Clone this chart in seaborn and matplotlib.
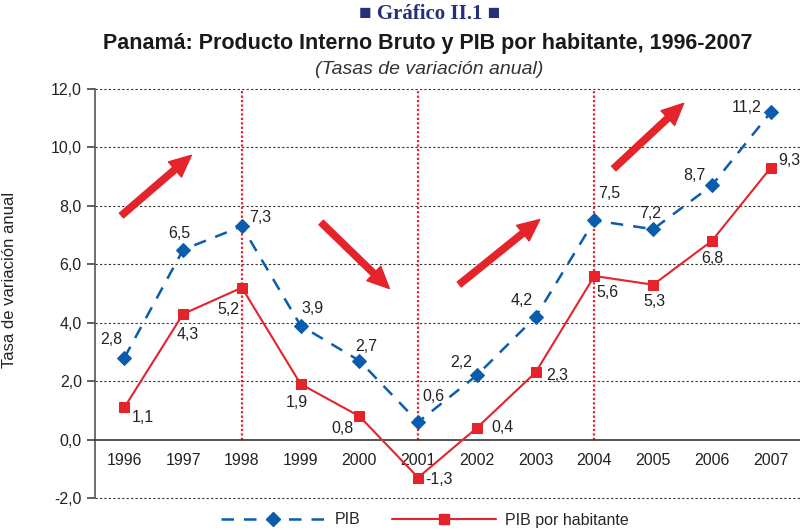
import numpy as np
import pandas as pd
import matplotlib
matplotlib.use("Agg")
import matplotlib.pyplot as plt
import seaborn as sns
from matplotlib.ticker import FuncFormatter, FixedLocator
from matplotlib.lines import Line2D

# ==========================================
#  DATA
# ==========================================
years = [1996, 1997, 1998, 1999, 2000, 2001, 2002, 2003, 2004, 2005, 2006, 2007]
pib = [2.8, 6.5, 7.3, 3.9, 2.7, 0.6, 2.2, 4.2, 7.5, 7.2, 8.7, 11.2]
pib_hab = [1.1, 4.3, 5.2, 1.9, 0.8, -1.3, 0.4, 2.3, 5.6, 5.3, 6.8, 9.3]

# label offsets (pixels) for the value annotations
pib_off = [(-13, 18), (-4, 16), (18, 9), (12, 17), (7, 14), (15, 26),
           (-16, 13), (-14, 16), (15, 27), (-3, 16), (-18, 10), (-24, 5)]
hab_off = [(18, -10), (5, -21), (-13, -22), (-4, -18), (-17, -12), (21, -2),
           (26, 0), (22, -3), (13, -17), (1, -17), (0, -18), (19, 7)]

# marked years and trend arrows (tail -> tip)
marked_years = [1998, 2001, 2004]
arrows = [((1995.95, 7.67), (1997.14, 9.73)),
          ((1999.35, 7.43), (2000.51, 5.17)),
          ((2001.70, 5.31), (2003.07, 7.53)),
          ((2004.33, 9.28), (2005.52, 11.51))]

df = pd.DataFrame({"Year": years, "PIB": pib, "PIB por habitante": pib_hab})

BLUE = "#0b5cad"
RED = "#e4232b"
NAVY = "#25307a"
TXT = "#222222"
FS = 11.5

sns.set_style("white")
plt.rcParams["font.family"] = ["Liberation Sans", "DejaVu Sans"]

fig = plt.figure(figsize=(8, 5.3), dpi=100)
ax = fig.add_axes([95 / 800, 1 - 498 / 530, 705 / 800, 409 / 530])

# grid
for g in np.arange(-2, 12.1, 2):
    if g != 0:
        ax.axhline(g, color="#333333", lw=0.8, ls=(0, (2, 2)), zorder=0, clip_on=False)
for yr in marked_years:
    ax.plot([yr, yr], [0, 12], color=RED, lw=1.6, ls=(0, (1, 1)), zorder=1)

sns.lineplot(data=df, x="Year", y="PIB", ax=ax, color=BLUE, lw=1.8,
             marker="D", markersize=7, markeredgecolor=BLUE,
             linestyle=(0, (5, 4)), zorder=3)
sns.lineplot(data=df, x="Year", y="PIB por habitante", ax=ax, color=RED, lw=1.5,
             marker="s", markersize=7, markeredgecolor=RED, zorder=3)

for x, v, o in zip(years, pib, pib_off):
    ax.annotate(f"{v:.1f}".replace(".", ","), (x, v), xytext=o,
                textcoords="offset pixels", ha="center", va="center",
                fontsize=FS, color=TXT)
for x, v, o in zip(years, pib_hab, hab_off):
    ax.annotate(f"{v:.1f}".replace(".", ","), (x, v), xytext=o,
                textcoords="offset pixels", ha="center", va="center",
                fontsize=FS, color=TXT)

for tail, tip in arrows:
    ax.annotate("", xy=tip, xytext=tail,
                arrowprops=dict(arrowstyle="simple,head_length=1.3,head_width=1.2,tail_width=0.38",
                                color=RED, mutation_scale=12, shrinkA=0, shrinkB=0))

ax.set_xlim(1995.5, 2007.5)
ax.set_ylim(-2, 12)
ax.set_yticks(np.arange(-2, 12.1, 2))
ax.yaxis.set_major_formatter(FuncFormatter(lambda v, p: f"{v:.1f}".replace(".", ",")))
ax.set_xticks(years)
ax.set_xticklabels([str(y) for y in years])
ax.xaxis.set_minor_locator(FixedLocator([y + 0.5 for y in years[:-1]]))
ax.tick_params(axis="x", which="major", length=0, pad=10, labelsize=FS, colors=TXT)
ax.tick_params(axis="x", which="minor", length=7, width=1.2, color="#333333", direction="out")
ax.tick_params(axis="y", length=6, width=1.2, color="#444444", labelsize=FS,
               colors=TXT, left=True)

for s in ["top", "right"]:
    ax.spines[s].set_visible(False)
ax.spines["bottom"].set_position(("data", 0))
ax.spines["bottom"].set_color("#333333")
ax.spines["bottom"].set_linewidth(1.2)
ax.spines["left"].set_color("#555555")
ax.spines["left"].set_linewidth(1.2)
ax.set_xlabel("")
ax.set_ylabel("Tasa de variación anual", fontsize=12, color=TXT)
ax.yaxis.set_label_coords(-(95 - 17) / 705, (498 - 280) / 409)

fig.text(430 / 800, 1 - 14 / 530, "■ Gráfico II.1 ■", ha="center", va="center",
         family=["Liberation Serif", "DejaVu Serif"], fontweight="bold",
         fontsize=15, color=NAVY)
fig.text(428 / 800, 1 - 44 / 530, "Panamá: Producto Interno Bruto y PIB por habitante, 1996-2007",
         ha="center", va="center", fontweight="bold", fontsize=15.5, color="#1a1a1a")
fig.text(429 / 800, 1 - 70 / 530, "(Tasas de variación anual)", ha="center", va="center",
         style="italic", fontsize=14, color="#333333")

handles = [Line2D([], [], color=BLUE, lw=1.8, ls=(0, (5, 4)), marker="D", markersize=7),
           Line2D([], [], color=RED, lw=1.5, marker="s", markersize=7)]
fig.legend(handles, ["PIB", "PIB por habitante"], loc="center",
           bbox_to_anchor=(425 / 800, 1 - 520 / 530), ncol=2, frameon=False,
           handlelength=6.5, columnspacing=2.0, fontsize=FS, handletextpad=0.6)
if ax.get_legend():
    ax.get_legend().remove()

fig.savefig("out.png", dpi=100)
